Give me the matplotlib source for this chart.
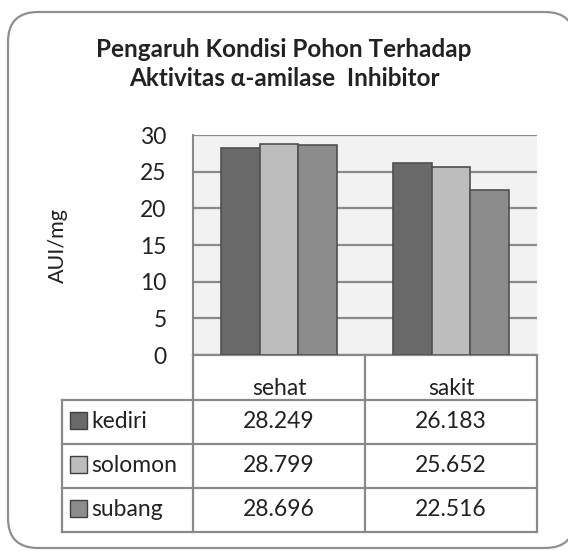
import matplotlib
matplotlib.use("Agg")
import matplotlib.pyplot as plt
from matplotlib.patches import FancyBboxPatch, Rectangle
from matplotlib.transforms import blended_transform_factory
import numpy as np

plt.rcParams['font.family'] = ['Lato', 'DejaVu Sans']

title = "Pengaruh Kondisi Pohon Terhadap\nAktivitas α-amilase  Inhibitor"
ylabel = "AUI/mg"
categories = ["sehat", "sakit"]
series_names = ["kediri", "solomon", "subang"]
kediri = [28.249, 26.183]
solomon = [28.799, 25.652]
subang = [28.696, 22.516]
series_values = [kediri, solomon, subang]
value_labels = [["28.249", "26.183"], ["28.799", "25.652"], ["28.696", "22.516"]]
colors = ["#696969", "#bdbdbd", "#8c8c8c"]
yticks = [0, 5, 10, 15, 20, 25, 30]

W, H = 568, 551
fig = plt.figure(figsize=(W / 100, H / 100), dpi=100)
fig.patch.set_facecolor("white")

# background axes in pixel units for the rounded outer frame
bg = fig.add_axes([0, 0, 1, 1], zorder=-5)
bg.set_xlim(0, W)
bg.set_ylim(H, 0)
bg.axis("off")
frame = FancyBboxPatch((8, 12), 575 - 8, 548 - 12,
                       boxstyle="round,pad=0,rounding_size=30",
                       facecolor="white", edgecolor="#8f8f8f", linewidth=1.6)
bg.add_patch(frame)

left, right, top, bottom = 193, 537, 135, 355
ax = fig.add_axes([left / W, 1 - bottom / H, (right - left) / W, (bottom - top) / H])
ax.set_facecolor("#f2f2f2")

x = np.arange(len(categories))
bw = 0.223
for i, (name, vals) in enumerate(zip(series_names, series_values)):
    ax.bar(x + (i - 1) * bw, vals, width=bw, color=colors[i], edgecolor="#505050",
           linewidth=1.2, zorder=3)

ax.set_xlim(-0.5, 1.5)
ax.set_ylim(0, 30)
ax.set_yticks(yticks)
ax.set_yticklabels([str(t) for t in yticks], fontsize=16.5)
ax.yaxis.grid(True, color="#8a8a8a", linewidth=1.6, zorder=1)
ax.set_axisbelow(True)
ax.tick_params(axis='y', length=0, pad=19, colors="#222222")
ax.set_xticks([])
for s in ["top", "right", "bottom"]:
    ax.spines[s].set_visible(False)
ax.spines["left"].set_color("#8a8a8a")
ax.spines["left"].set_linewidth(1.5)

ax.set_ylabel(ylabel, fontsize=15.5, color="#222222")
ax.yaxis.set_label_coords((68 - left) / (right - left), (bottom - 246) / (bottom - top))

fig.text(0.5, 1 - 64 / H, title, ha="center", va="center", fontsize=17.5,
         fontweight="bold", color="#222222", linespacing=1.3)

# data table below axes
tr = blended_transform_factory(ax.transData, ax.transAxes)
ph = bottom - top
hdr = (400 - bottom) / ph
rowh = 44 / ph
lab_x = -0.5 - (left - 62) / ((right - left) / 2)
lc = "#8a8a8a"
lw = 1.6
y_hdr = -hdr
y_rows = [y_hdr - rowh * k for k in range(len(series_names) + 1)]

def hline(x0, x1, y):
    ax.plot([x0, x1], [y, y], color=lc, lw=lw, transform=tr, clip_on=False,
            solid_capstyle="projecting")

def vline(xx, y0, y1):
    ax.plot([xx, xx], [y0, y1], color=lc, lw=lw, transform=tr, clip_on=False,
            solid_capstyle="projecting")

hline(-0.5, 1.5, 0)
for yy in y_rows:
    hline(lab_x, 1.5, yy)
for xx in [-0.5, 0.5, 1.5]:
    vline(xx, 0, y_rows[-1])
vline(lab_x, y_hdr, y_rows[-1])

for j, c in enumerate(categories):
    ax.text(x[j], y_hdr + 0.005, c, transform=tr, ha="center", va="bottom",
            fontsize=16.5, color="#222222")

sq_w = 17 / ((right - left) / 2)
sq_h = 17 / ph
for i, name in enumerate(series_names):
    yc = (y_rows[i] + y_rows[i + 1]) / 2
    # legend key
    sq = Rectangle((lab_x + 8 / 172, yc - sq_h / 2 + 0.005), sq_w, sq_h, transform=tr,
                   facecolor=colors[i], edgecolor="#404040", lw=1.0, clip_on=False)
    ax.add_patch(sq)
    ax.text(lab_x + 29 / 172, yc, name, transform=tr, ha="left", va="center",
            fontsize=16.5, color="#222222")
    for j in range(len(categories)):
        ax.text(x[j], yc, value_labels[i][j], transform=tr, ha="center",
                va="center", fontsize=16.5, color="#222222")

fig.savefig("out.png", dpi=100)
